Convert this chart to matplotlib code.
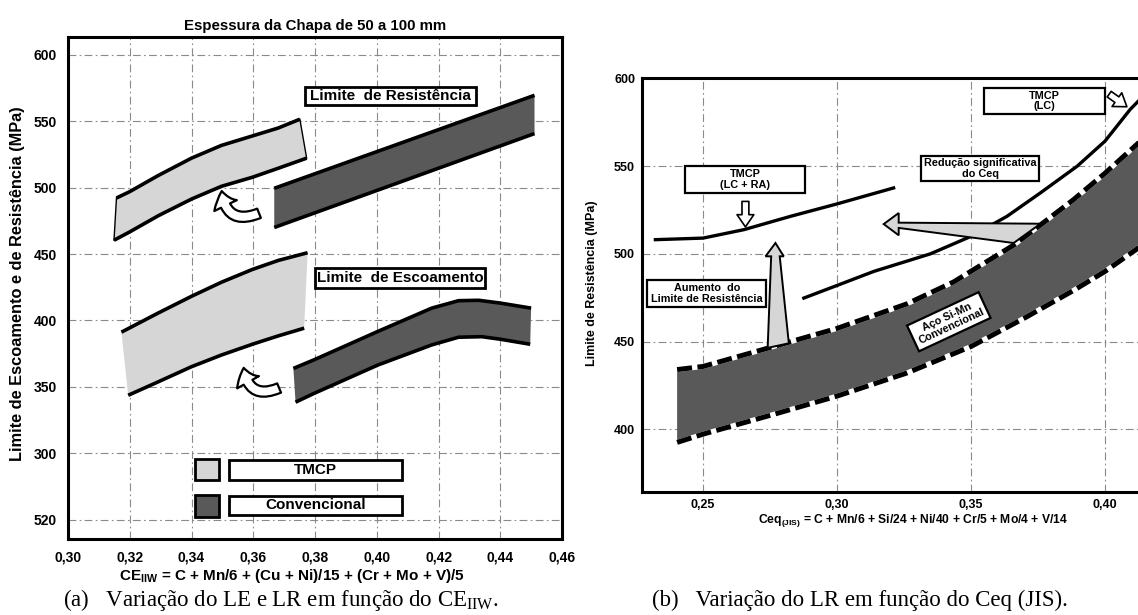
import matplotlib
matplotlib.use("Agg")
import matplotlib.pyplot as plt
from matplotlib.patches import Polygon, FancyArrowPatch, Rectangle

plt.rcParams['font.family'] = ['Liberation Sans', 'DejaVu Sans']
plt.rcParams['font.weight'] = 'bold'
plt.rcParams['mathtext.fontset'] = 'custom'
plt.rcParams['mathtext.rm'] = 'Liberation Serif:weight=normal'
plt.rcParams['mathtext.bf'] = 'Liberation Sans:bold'

# ---------------- (a) LE e LR x CE_IIW ----------------
lr_tmcp_sup_x = [0.3157, 0.3200, 0.3292, 0.3400, 0.3497, 0.3597, 0.3681, 0.3751]
lr_tmcp_sup_y = [492.2, 497.0, 509.1, 522.2, 531.8, 538.9, 544.9, 551.5]
lr_tmcp_inf_x = [0.3149, 0.3200, 0.3292, 0.3400, 0.3497, 0.3597, 0.3681, 0.3773]
lr_tmcp_inf_y = [460.4, 466.7, 478.8, 491.4, 501.0, 507.8, 514.6, 522.2]

lr_conv_sup_x = [0.3668, 0.4511]
lr_conv_sup_y = [499.5, 569.5]
lr_conv_inf_x = [0.3668, 0.4511]
lr_conv_inf_y = [470.0, 540.7]

le_tmcp_sup_x = [0.3173, 0.3292, 0.3400, 0.3497, 0.3597, 0.3681, 0.3776]
le_tmcp_sup_y = [391.2, 405.6, 418.2, 428.8, 438.4, 445.2, 451.0]
le_tmcp_inf_x = [0.3195, 0.3292, 0.3400, 0.3497, 0.3597, 0.3681, 0.3765]
le_tmcp_inf_y = [343.7, 353.8, 365.2, 374.0, 382.1, 388.4, 394.2]

le_conv_sup_x = [0.3730, 0.3795, 0.4003, 0.4178, 0.4265, 0.4330, 0.4400, 0.4500]
le_conv_sup_y = [363.9, 370.2, 391.7, 409.3, 414.9, 415.2, 413.1, 409.3]
le_conv_inf_x = [0.3737, 0.3795, 0.4003, 0.4178, 0.4265, 0.4340, 0.4400, 0.4497]
le_conv_inf_y = [338.5, 344.9, 366.4, 381.6, 387.4, 387.8, 385.9, 382.1]

a_xticks = [0.30, 0.32, 0.34, 0.36, 0.38, 0.40, 0.42, 0.44, 0.46]
a_xlabels = ["0,30", "0,32", "0,34", "0,36", "0,38", "0,40", "0,42", "0,44", "0,46"]
a_yticks = [250, 300, 350, 400, 450, 500, 550, 600]
a_ylabels = ["520", "300", "350", "400", "450", "500", "550", "600"]

# ---------------- (b) LR x Ceq(JIS) ----------------
lcra_x = [0.2322, 0.2500, 0.2652, 0.2826, 0.3000, 0.3211]
lcra_y = [508.1, 509.0, 513.8, 521.4, 528.5, 537.6]

lc_x = [0.2876, 0.3000, 0.3137, 0.3348, 0.3500, 0.3634, 0.3759, 0.3896, 0.4000, 0.4094, 0.4130]
lc_y = [474.8, 482.0, 490.0, 500.0, 510.0, 521.4, 534.8, 550.0, 564.3, 582.4, 588.0]

conv_sup_x = [0.2403, 0.2500, 0.2764, 0.3000, 0.3261, 0.3435, 0.3659, 0.3759, 0.3883, 0.4000, 0.4130]
conv_sup_y = [434.0, 435.8, 447.2, 457.5, 471.5, 484.0, 505.0, 516.5, 531.0, 546.0, 564.0]
conv_inf_x = [0.2403, 0.2500, 0.2764, 0.3000, 0.3261, 0.3500, 0.3697, 0.3883, 0.4000, 0.4130]
conv_inf_y = [392.5, 397.2, 408.5, 418.9, 432.1, 447.2, 463.2, 479.2, 490.0, 504.0]

b_xticks = [0.25, 0.30, 0.35, 0.40]
b_xlabels = ["0,25", "0,30", "0,35", "0,40"]
b_yticks = [400, 450, 500, 550, 600]

claro = "#d6d6d6"
escuro = "#595959"
grade = dict(color="#8a8a8a", lw=0.8, linestyle=(0, (7, 3, 1.5, 3)))


def caixa(ax, x0, x1, y0, y1, texto, fs, lw=2.0):
    ax.add_patch(Rectangle((x0, y0), x1 - x0, y1 - y0, fc="white", ec="black", lw=lw, zorder=6))
    ax.text((x0 + x1) / 2, (y0 + y1) / 2, texto, ha="center", va="center", fontsize=fs,
            fontweight="bold", zorder=7, linespacing=1.1)


def faixa(ax, xs, ys, xi, yi, cor, borda):
    ax.fill(list(xs) + list(xi)[::-1], list(ys) + list(yi)[::-1], color=cor, lw=0, zorder=2)
    if borda:
        ax.plot([xs[0], xi[0]], [ys[0], yi[0]], color="black", lw=1.0, zorder=3)
        ax.plot([xs[-1], xi[-1]], [ys[-1], yi[-1]], color="black", lw=1.0, zorder=3)


fig = plt.figure(figsize=(11.38, 6.15), dpi=100)

# ===== painel (a)
ax1 = fig.add_axes([68 / 1138, 1 - 539 / 615, 494 / 1138, 502 / 615])
ax1.set_xlim(0.30, 0.46)
ax1.set_ylim(235.5, 613.4)
for x in a_xticks[1:-1]:
    ax1.axvline(x, zorder=1, **grade)
for y in a_yticks:
    ax1.axhline(y, zorder=1, **grade)

faixa(ax1, lr_tmcp_sup_x, lr_tmcp_sup_y, lr_tmcp_inf_x, lr_tmcp_inf_y, claro, True)
faixa(ax1, le_tmcp_sup_x, le_tmcp_sup_y, le_tmcp_inf_x, le_tmcp_inf_y, claro, False)
faixa(ax1, lr_conv_sup_x, lr_conv_sup_y, lr_conv_inf_x, lr_conv_inf_y, escuro, False)
faixa(ax1, le_conv_sup_x, le_conv_sup_y, le_conv_inf_x, le_conv_inf_y, escuro, False)
for xs, ys in [(lr_tmcp_sup_x, lr_tmcp_sup_y), (lr_tmcp_inf_x, lr_tmcp_inf_y),
               (lr_conv_sup_x, lr_conv_sup_y), (lr_conv_inf_x, lr_conv_inf_y),
               (le_tmcp_sup_x, le_tmcp_sup_y), (le_tmcp_inf_x, le_tmcp_inf_y),
               (le_conv_sup_x, le_conv_sup_y), (le_conv_inf_x, le_conv_inf_y)]:
    ax1.plot(xs, ys, color="black", lw=2.6, solid_capstyle="butt", solid_joinstyle="round", zorder=4)

# setas curvas (convencional -> TMCP)
for a, b in [((0.3627, 481.5), (0.3497, 499.5)), ((0.3692, 350.0), (0.3568, 366.4))]:
    ax1.add_patch(FancyArrowPatch(a, b, connectionstyle="arc3,rad=-0.7",
                                  arrowstyle="simple,head_width=1.5,head_length=0.9,tail_width=0.6",
                                  mutation_scale=12, fc="white", ec="black", lw=1.6, zorder=5))

caixa(ax1, 0.3766, 0.4323, 562.3, 576.1, "Limite  de Resistência", 11)
caixa(ax1, 0.3799, 0.4352, 424.1, 439.2, "Limite  de Escoamento", 11)
ax1.add_patch(Rectangle((0.3412, 279.6), 0.0076, 16.1, fc=claro, ec="black", lw=2, zorder=6))
ax1.add_patch(Rectangle((0.3412, 252.0), 0.0076, 16.8, fc=escuro, ec="black", lw=2, zorder=6))
caixa(ax1, 0.3520, 0.4082, 280.2, 295.2, "TMCP", 11)
caixa(ax1, 0.3520, 0.4082, 253.8, 268.0, "Convencional", 11)

ax1.set_xticks(a_xticks, a_xlabels)
ax1.set_yticks(a_yticks, a_ylabels)
ax1.tick_params(length=0, labelsize=10, pad=8)
for s in ax1.spines.values():
    s.set_linewidth(2.2)
ax1.set_title("Espessura da Chapa de 50 a 100 mm", fontsize=10.8, fontweight="bold", pad=5)
fig.text(18 / 1138, 1 - 284 / 615, "Limite de Escoamento e de Resistência (MPa)", rotation=90,
         ha="center", va="center", fontsize=11.8, fontweight="bold")
fig.text(292 / 1138, 1 - 576 / 615,
         r"CE$_{\mathbf{IIW}}$ = C + Mn/6 + (Cu + Ni)/15 + (Cr + Mo + V)/5",
         ha="center", va="center", fontsize=11, fontweight="bold")

# ===== painel (b)
ax2 = fig.add_axes([642 / 1138, 1 - 492 / 615, 597 / 1138, 414 / 615])
ax2.set_xlim(0.2272, 0.45)
ax2.set_ylim(364.2, 600.3)
for x in b_xticks:
    ax2.axvline(x, zorder=1, **grade)
for y in b_yticks[:-1]:
    ax2.axhline(y, zorder=1, **grade)

ax2.fill(conv_sup_x + conv_inf_x[::-1], conv_sup_y + conv_inf_y[::-1], color=escuro, lw=0, zorder=2)
for xs, ys in [(conv_sup_x, conv_sup_y), (conv_inf_x, conv_inf_y)]:
    ax2.plot(xs, ys, color="white", lw=3.6, solid_joinstyle="round", zorder=3)
    ax2.plot(xs, ys, color="black", lw=3.6, linestyle=(0, (3, 1.1)), zorder=4)
ax2.plot(lcra_x, lcra_y, color="black", lw=2.4, solid_joinstyle="round", zorder=4)
ax2.plot(lc_x, lc_y, color="black", lw=2.4, solid_joinstyle="round", zorder=4)

# setas cinzas (anotacoes)
seta_vertical = [(0.2741, 446.4), (0.2754, 498.6), (0.2733, 498.6), (0.2770, 506.2),
                 (0.2801, 498.6), (0.2786, 498.6), (0.2820, 449.0)]
seta_horizontal = [(0.3174, 517.0), (0.3230, 523.3), (0.3230, 517.8), (0.3759, 517.2),
                   (0.3659, 506.2), (0.3230, 514.8), (0.3230, 510.6)]
for v in [seta_vertical, seta_horizontal]:
    ax2.add_patch(Polygon(v, closed=True, fc=claro, ec="black", lw=1.4, zorder=5))

for a, b in [((0.2658, 531.5), (0.2658, 513.8)), ((0.4007, 592.0), (0.4090, 583.0))]:
    ax2.add_patch(FancyArrowPatch(a, b, arrowstyle="simple,head_width=1.1,head_length=0.8,tail_width=0.45",
                                  mutation_scale=11, fc="white", ec="black", lw=1.2, zorder=5))

caixa(ax2, 0.2432, 0.2882, 534.8, 550.0, "TMCP\n(LC + RA)", 7.8, lw=1.6)
caixa(ax2, 0.3550, 0.4000, 579.5, 594.8, "TMCP\n(LC)", 7.8, lw=1.6)
caixa(ax2, 0.3315, 0.3755, 541.8, 555.7, "Redução significativa\ndo Ceq", 7.8, lw=1.6)
caixa(ax2, 0.2291, 0.2736, 469.8, 485.0, "Aumento  do\nLimite de Resistência", 7.8, lw=1.6)
ax2.text(0.3417, 461.3, "Aço Si-Mn\nConvencional", rotation=25, ha="center", va="center",
         fontsize=7.8, fontweight="bold", zorder=7, linespacing=1.1, rotation_mode="anchor",
         bbox=dict(boxstyle="square,pad=0.35", fc="white", ec="black", lw=1.6))

ax2.set_xticks(b_xticks, b_xlabels)
ax2.set_yticks(b_yticks)
ax2.tick_params(length=0, labelsize=9, pad=5)
for s in ax2.spines.values():
    s.set_linewidth(2.2)
fig.text(592 / 1138, 1 - 283 / 615, "Limite de Resistência (MPa)", rotation=90,
         ha="center", va="center", fontsize=9, fontweight="bold")
fig.text(913 / 1138, 1 - 520 / 615,
         r"Ceq$_{\mathbf{(JIS)}}$ = C + Mn/6 + Si/24 + Ni/40 + Cr/5 + Mo/4 + V/14",
         ha="center", va="center", fontsize=8.7, fontweight="bold")

# legendas das figuras
fig.text(63 / 1138, 1 - 606 / 615, r"(a)   Variação do LE e LR em função do CE$_{\mathrm{IIW}}$.",
         ha="left", va="baseline", fontsize=16.5, fontweight="normal", family="Liberation Serif")
fig.text(652 / 1138, 1 - 606 / 615, "(b)   Variação do LR em função do Ceq (JIS).",
         ha="left", va="baseline", fontsize=16.5, fontweight="normal", family="Liberation Serif")

fig.savefig("out.png", dpi=100)
